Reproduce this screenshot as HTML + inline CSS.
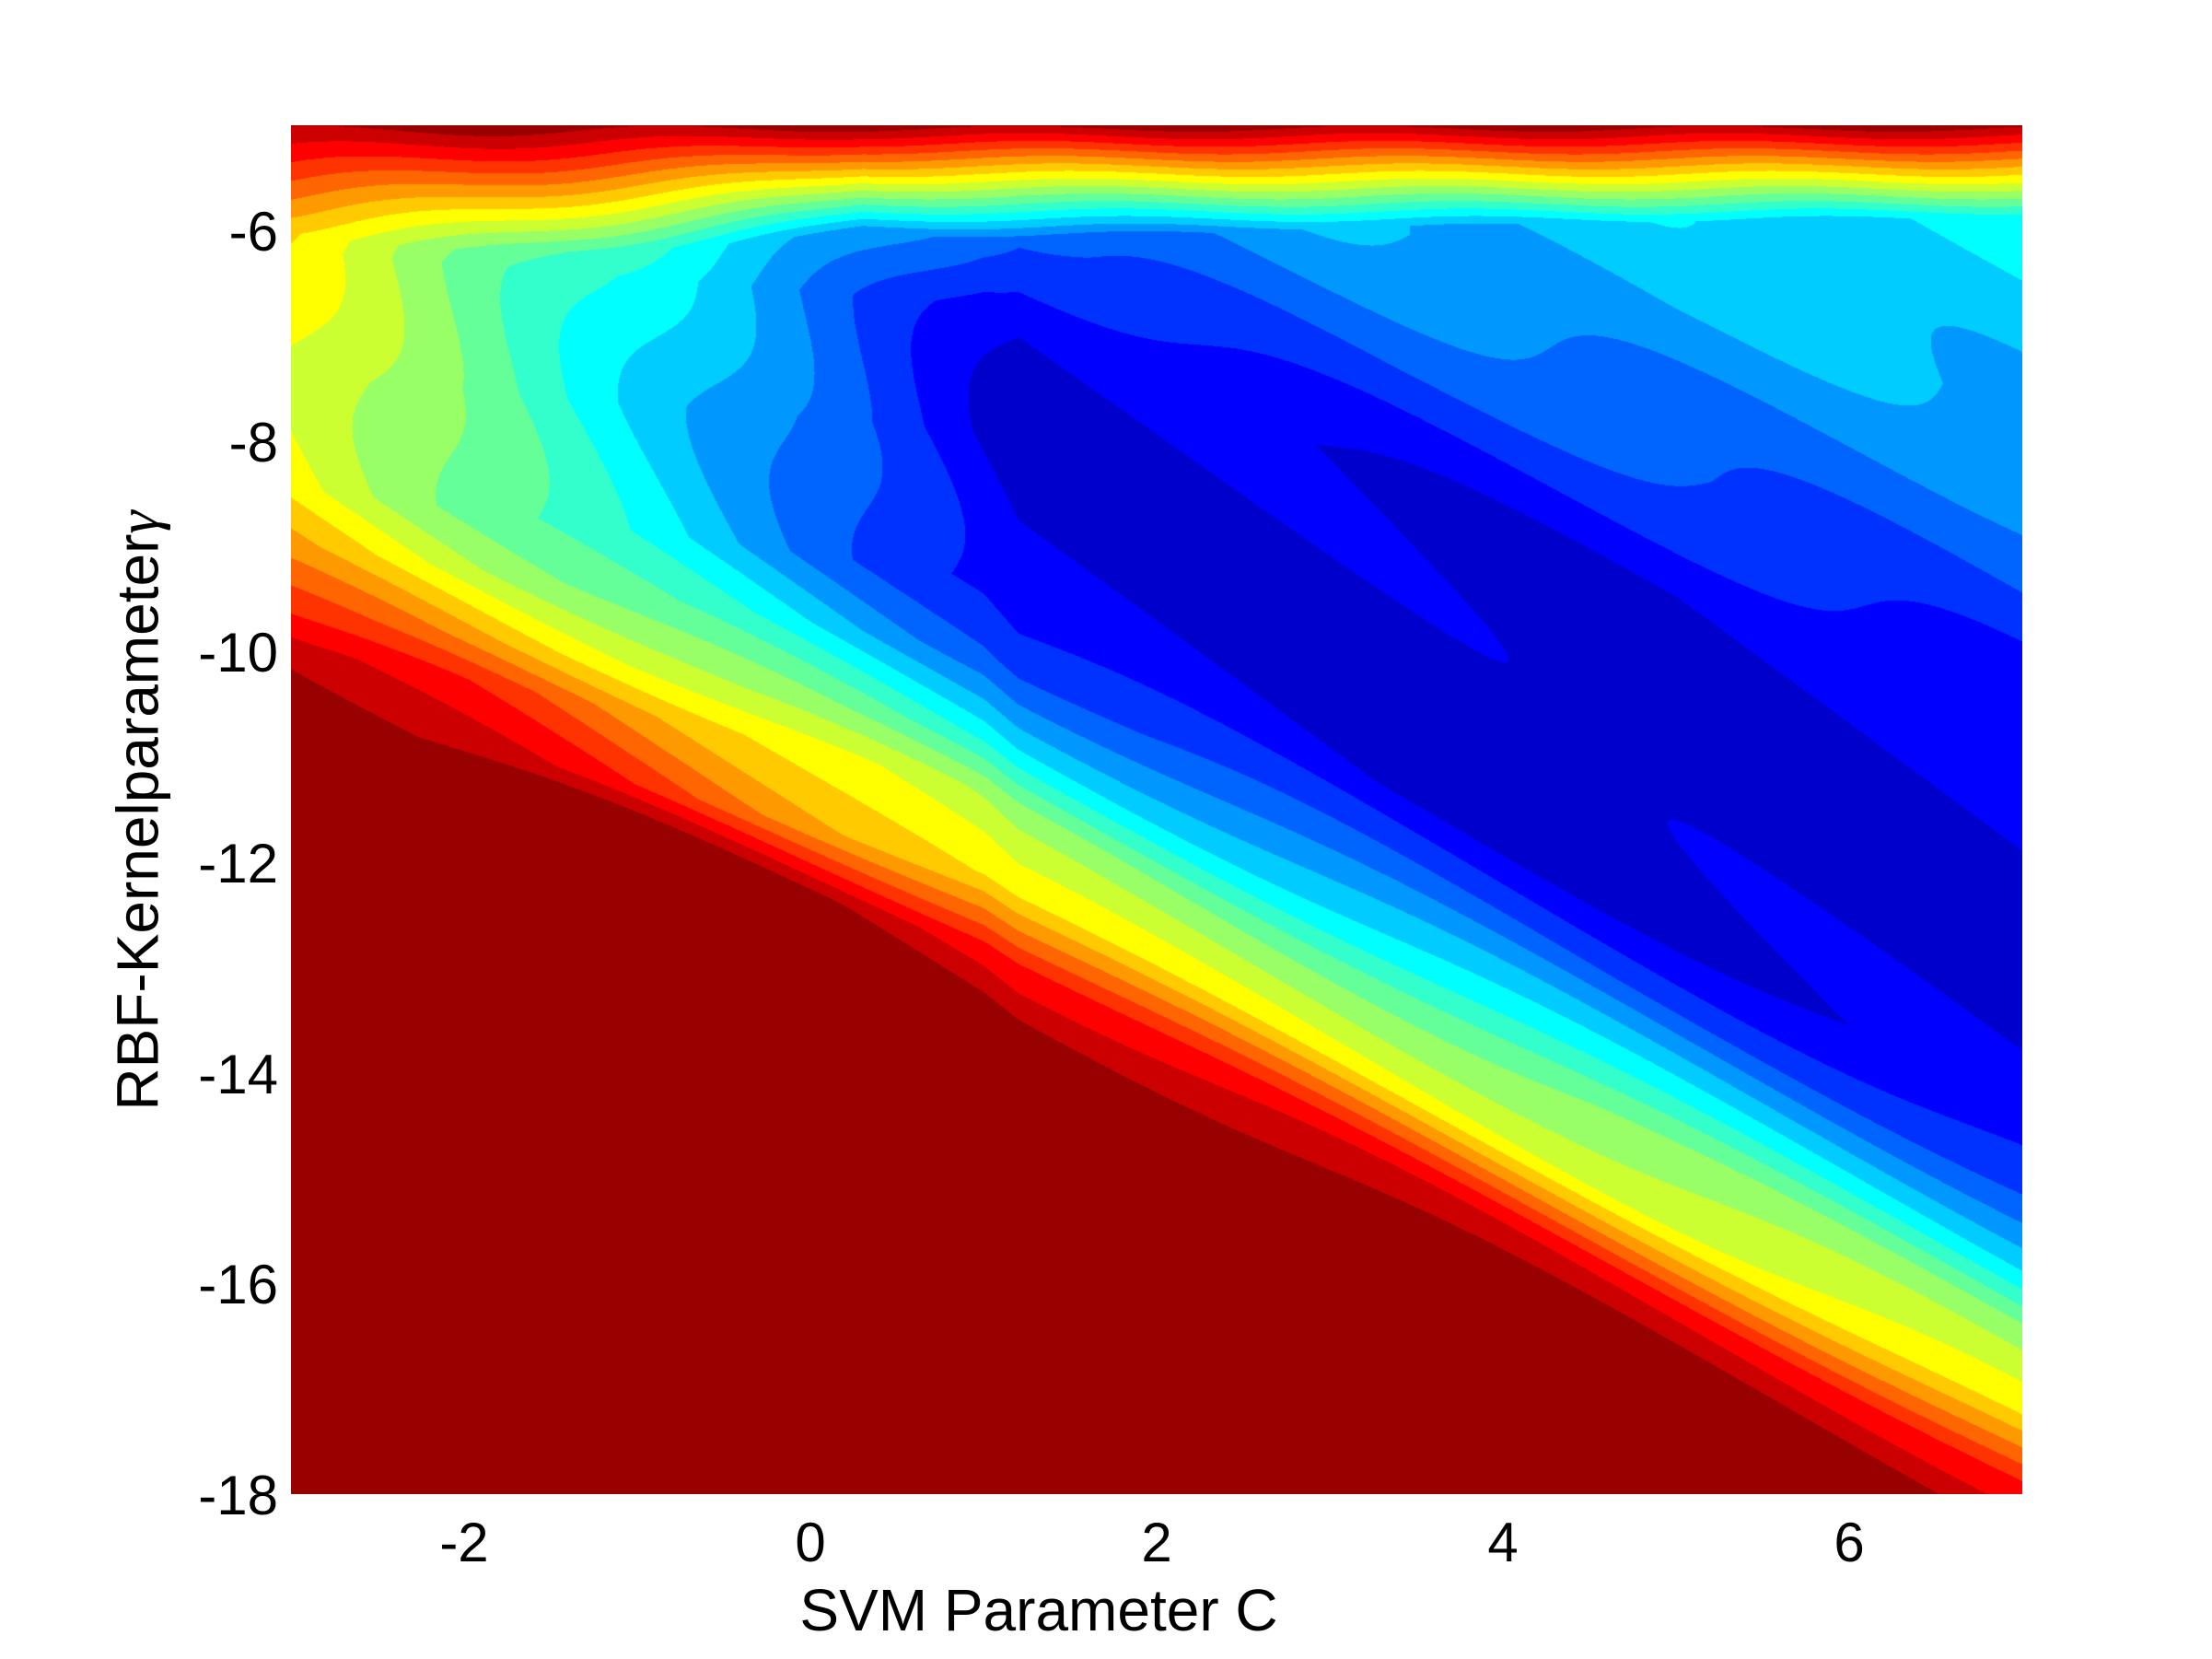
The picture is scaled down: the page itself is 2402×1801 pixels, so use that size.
<!DOCTYPE html>
<html><head><meta charset="utf-8">
<style>
html,body{margin:0;padding:0;background:#fff;}
#wrap{position:relative;width:2402px;height:1801px;background:#fff;font-family:"Liberation Sans",Arial,sans-serif;color:#000;}
canvas{position:absolute;left:316px;top:136px;}
.t{position:absolute;font-size:60px;line-height:1;}
.xt{transform:translateX(-50%);top:1645px;}
.yt{text-align:right;width:200px;left:102px;}
</style></head><body>
<div id="wrap">
<canvas id="c" width="1880" height="1486"></canvas>
<div class="t xt" style="left:504px">-2</div>
<div class="t xt" style="left:880px">0</div>
<div class="t xt" style="left:1256px">2</div>
<div class="t xt" style="left:1632px">4</div>
<div class="t xt" style="left:2008px">6</div>
<div class="t yt" style="top:222px">-6</div>
<div class="t yt" style="top:451px">-8</div>
<div class="t yt" style="top:679px">-10</div>
<div class="t yt" style="top:908px">-12</div>
<div class="t yt" style="top:1137px">-14</div>
<div class="t yt" style="top:1365px">-16</div>
<div class="t yt" style="top:1594px">-18</div>
<div class="t" style="left:1128px;top:1716px;transform:translateX(-50%);font-size:64px;white-space:nowrap">SVM Parameter C</div>
<div class="t" style="left:150px;top:880px;transform:translate(-50%,-50%) rotate(-90deg);font-size:64px;white-space:nowrap">RBF-Kernelparameter<span style="font-family:'Liberation Serif',serif;font-style:italic">γ</span></div>
</div>
<script>
function jet(v){
  var r=Math.min(Math.max(1.5-Math.abs(4*v-3),0),1);
  var g=Math.min(Math.max(1.5-Math.abs(4*v-2),0),1);
  var b=Math.min(Math.max(1.5-Math.abs(4*v-1),0),1);
  return [r*255|0,g*255|0,b*255|0];
}
function interp(x,xs,ys){
  if(x<=xs[0])return ys[0];
  for(var i=1;i<xs.length;i++){if(x<=xs[i]){var t=(x-xs[i-1])/(xs[i]-xs[i-1]);return ys[i-1]+t*(ys[i]-ys[i-1]);}}
  return ys[ys.length-1];
}
function field(C,g){
  var g0 = C>1 ? -7.9-0.85*(C-1) : -7.9+0.13*(1-C);
  var d=g0-g;
  var v;
  if(d>=0){
    d=d*(1+Math.max(0,1-C)*0.08);
    v=interp(d,[0,1.4,2.1,2.9,3.4,4.2,4.9,5.6],[0.075,0.1,0.2,0.37,0.5,0.62,0.87,1.0]);
  } else {
    var u=-d/(1+0.13*Math.max(0,C-1));
    v=interp(u,[0,1.2,2,3,4,5],[0.075,0.1,0.2,0.3,0.36,0.4]);
  }
  var vmin=Math.max(0,(1.2-C)*0.13);
  v=v+vmin*(1-v*0.4);
  var sc=1+Math.max(0,-C+0.3)*0.35;
  var top=0.97-0.7*(-5-g)/sc;
  if(top>v)v=top;
  v+=0.02*Math.sin(C*3.1+g*2.3);
  return Math.min(Math.max(v,0),1);
}
var cv=document.getElementById('c'),ctx=cv.getContext('2d');
var W=1880,H=1486,im=ctx.createImageData(W,H),D=im.data;
var levels=20;
for(var y=0;y<H;y++){
  var g=-5-13*y/H;
  for(var x=0;x<W;x++){
    var C=-3+10*x/W;
    var v=field(C,g);
    v=Math.min(levels-1,Math.floor(v*levels))/(levels-1);
    var c=jet(0.5/levels+v*(1-1/levels));
    var k=(y*W+x)*4;D[k]=c[0];D[k+1]=c[1];D[k+2]=c[2];D[k+3]=255;
  }
}
ctx.putImageData(im,0,0);
</script>
</body></html>
